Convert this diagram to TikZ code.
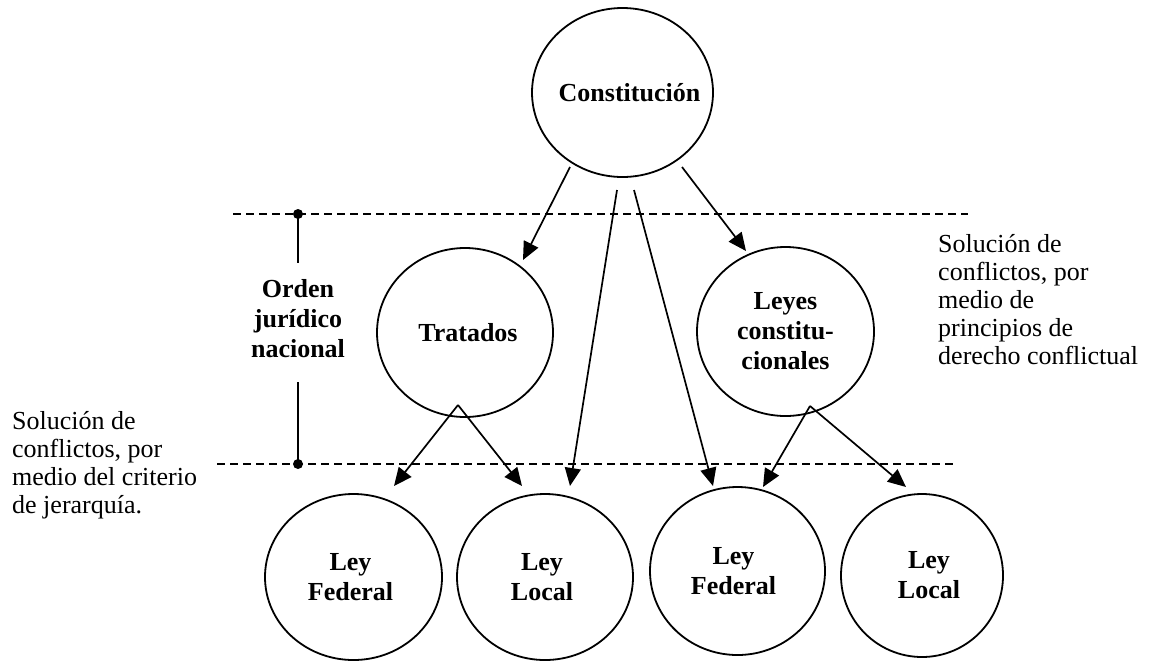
\documentclass[tikz,border=0pt]{standalone}
\usepackage{fontspec}
\setmainfont{Liberation Serif}
\usetikzlibrary{shapes.geometric,arrows.meta}

\begin{document}
\begin{tikzpicture}[x=1pt,y=-1pt,
  law/.style={draw, ellipse, line width=1.8pt, inner sep=0pt},
  lbl/.style={font=\fontsize{26}{30}\selectfont\bfseries, align=center, inner sep=0pt},
  arr/.style={-{Triangle[length=18pt,width=16pt]}, line width=1.7pt},
  cut/.style={dash pattern=on 8pt off 5pt, line width=1.7pt},
  note/.style={font=\fontsize{26}{28}\selectfont, align=left, anchor=north west, inner sep=0pt},
  pin/.style={circle, fill=black, inner sep=0pt, minimum size=10pt}]

\useasboundingbox (0,0) rectangle (1150,662);

% hierarchy levels
\node[law, minimum width=181pt, minimum height=169pt,
      label={[lbl,xshift=7pt]center:Constitución}] (cons) at (622.5,92.5) {};
\node[law, minimum width=176pt, minimum height=169pt,
      label={[lbl,xshift=3pt]center:Tratados}] (trat) at (465,332.5) {};
\node[law, minimum width=177pt, minimum height=169pt,
      label={[lbl]center:Leyes\\constitu-\\cionales}] (leyc) at (785.5,331.5) {};
\node[law, minimum width=177pt, minimum height=166pt,
      label={[lbl,xshift=-3pt]center:Ley\\Federal}] (fed1) at (353.5,577) {};
\node[law, minimum width=176pt, minimum height=166pt,
      label={[lbl,xshift=-3pt]center:Ley\\Local}] (loc1) at (545,577) {};
\node[law, minimum width=175pt, minimum height=168pt,
      label={[lbl,xshift=-4pt]center:Ley\\Federal}] (fed2) at (737.5,571) {};
\node[law, minimum width=162pt, minimum height=163pt,
      label={[lbl,xshift=7pt]center:Ley\\Local}] (loc2) at (922,575.5) {};

% dashed boundaries of the national legal order
\coordinate (topL) at (233,214);
\coordinate (topR) at (968,214);
\coordinate (botL) at (217,464);
\coordinate (botR) at (953,464);
\draw[cut] (topL) -- (topR);
\draw[cut] (botL) -- (botR);

\node[pin] (pinTop) at (298,214) {};
\node[pin] (pinBot) at (298,464) {};
\node[lbl] (orden) at (298,318.5) {Orden\\jurídico\\nacional};
\coordinate (barTop) at (298,263);
\coordinate (barBot) at (298,382);
\draw[line width=1.7pt] (pinTop.center) -- (barTop);
\draw[line width=1.7pt] (barBot) -- (pinBot.center);

% arrows from the constitution
\coordinate (c1s) at (570,167);  \coordinate (c1e) at (523,260);
\coordinate (c2s) at (617,190);  \coordinate (c2e) at (570,486);
\coordinate (c3s) at (634,190);  \coordinate (c3e) at (713,486);
\coordinate (c4s) at (682,167);  \coordinate (c4e) at (746,251);
\draw[arr] (c1s) -- (c1e);
\draw[arr] (c2s) -- (c2e);
\draw[arr] (c3s) -- (c3e);
\draw[arr] (c4s) -- (c4e);

% arrows from treaties and constitutional laws
\coordinate (tf) at (458,405);
\coordinate (tfa) at (394,486);
\coordinate (tfb) at (522,486);
\draw[arr] (tf) -- (tfa);
\draw[arr] (tf) -- (tfb);
\coordinate (lf) at (810,406);
\coordinate (lfa) at (763,487);
\coordinate (lfb) at (906,487);
\draw[arr] (lf) -- (lfa);
\draw[arr] (lf) -- (lfb);

% side notes
\node[note] (noteR) at (938,234) {Solución de\\conflictos, por\\medio de\\principios de\\derecho conflictual};
\node[note] (noteL) at (12,411) {Solución de\\conflictos, por\\medio del criterio\\de jerarquía.};

\end{tikzpicture}
\end{document}
